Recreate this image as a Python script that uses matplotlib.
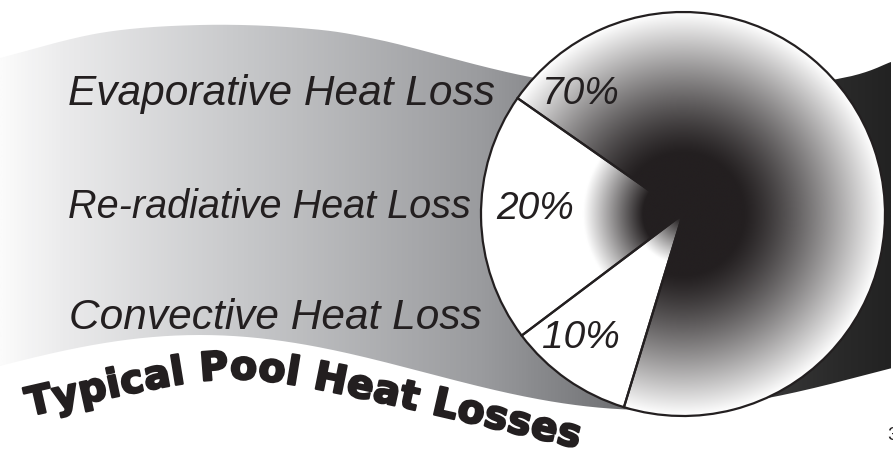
import numpy as np
import matplotlib
matplotlib.use("Agg")
import matplotlib.pyplot as plt
from matplotlib.colors import LinearSegmentedColormap
from matplotlib.path import Path
from matplotlib.patches import PathPatch
from matplotlib.font_manager import FontProperties, findfont, get_font
import matplotlib.patheffects as pe

# ---------------- data ----------------
categories = ["Evaporative Heat Loss", "Re-radiative Heat Loss", "Convective Heat Loss"]
shares = [70, 20, 10]
share_labels = ["70%", "20%", "10%"]
title = "Typical Pool Heat Losses"
page_number = "3"

# ---------------- canvas ----------------
W, H = 893, 453
INK = "#231f20"
fig = plt.figure(figsize=(W / 100, H / 100), dpi=100)
ax = fig.add_axes([0, 0, 1, 1])
ax.axis("off")


def catmull(pts, n=40):
    pts = np.asarray(pts, float)
    P = np.vstack([pts[0], pts, pts[-1]])
    out = []
    for i in range(1, len(P) - 2):
        p0, p1, p2, p3 = P[i - 1], P[i], P[i + 1], P[i + 2]
        t = np.linspace(0, 1, n, endpoint=False)[:, None]
        out.append(0.5 * ((2 * p1) + (-p0 + p2) * t + (2 * p0 - 5 * p1 + 4 * p2 - p3) * t ** 2
                          + (-p0 + 3 * p1 - 3 * p2 + p3) * t ** 3))
    out.append(pts[-1][None])
    return np.vstack(out)


# ---------------- wavy ribbon ----------------
top_edge = catmull([(0, 58), (100, 33), (200, 25), (300, 28), (380, 40), (530, 77),
                    (690, 100), (838, 79), (891, 62)])
xb = np.linspace(891, 0, 300)
yb = 372.5 - 37.5 * np.cos(2 * np.pi * (xb - 200) / 900)
verts = np.vstack([top_edge, np.column_stack([xb, yb]), top_edge[:1]])
band = PathPatch(Path(verts), facecolor="none", edgecolor="none")
ax.add_patch(band)
band_cmap = LinearSegmentedColormap.from_list(
    "band", [(0, "#fbfbfb"), (0.07, "#ebebec"), (0.26, "#c9cacc"), (0.54, "#9a9b9e"),
             (0.67, "#77787b"), (0.82, "#3f3f40"), (0.94, "#2a2a2a"), (1, "#222222")])
grad = np.linspace(0, 1, 512)[None, :]
im = ax.imshow(grad, cmap=band_cmap, extent=(0, W, H, 0), aspect="auto",
               zorder=1, interpolation="bilinear")
im.set_clip_path(band)

# ---------------- pie ----------------
cx, cy, R = 683, 214, 202
wedges, _ = ax.pie(shares, center=(cx, cy), radius=R, startangle=107, counterclock=False,
                   wedgeprops=dict(facecolor="none", edgecolor=INK, linewidth=1.6, zorder=5))
grad_cmap = LinearSegmentedColormap.from_list("p", [INK, "#ffffff"])
n = 700
xs = np.linspace(cx - R, cx + R, n)
ys = np.linspace(cy - R, cy + R, n)
X, Y = np.meshgrid(xs, ys)
rr = np.hypot(X - cx, Y - cy)
ramps = [(60, 202, 1.25), (40, 100, 1.0), (5, 50, 1.0)]
for wedge, (r0, r1, g) in zip(wedges, ramps):
    val = np.clip((rr - r0) / (r1 - r0), 0, 1) ** g
    gi = ax.imshow(val, cmap=grad_cmap, vmin=0, vmax=1,
                   extent=(cx - R, cx + R, cy + R, cy - R), origin="upper",
                   zorder=4, interpolation="bilinear", aspect="auto")
    gi.set_clip_path(wedge)

# ---------------- labels ----------------
label_pos = [(68, 105), (68, 218), (69, 329)]
label_size = [30.5, 28.5, 30.5]
for txt, (x, y), fs in zip(categories, label_pos, label_size):
    ax.text(x, y, txt, fontsize=fs, style="italic", family="Liberation Sans",
            color=INK, ha="left", va="baseline", zorder=3)

pct_pos = [(542, 104), (496, 219), (542, 348)]
for txt, (x, y) in zip(share_labels, pct_pos):
    ax.text(x, y, txt, fontsize=28, style="italic", family="Liberation Sans",
            color=INK, ha="left", va="baseline", zorder=6)

# ---------------- curved title ----------------
fp_ref = FontProperties(family="DejaVu Sans", weight="bold", size=100)
font = get_font(findfont(fp_ref))
font.set_size(100, 100)
adv100 = np.array([font.load_char(ord(c)).linearHoriAdvance / 65536 for c in title])

x0c, bslope, wc = 235.0, 0.24, 60.0
ac = 379 - bslope * wc
xc = np.linspace(0, 800, 8001)
yc = ac + bslope * np.sqrt((xc - x0c) ** 2 + wc ** 2)
sc = np.concatenate([[0], np.cumsum(np.hypot(np.diff(xc), np.diff(yc)))])
s_start = np.interp(29, xc, sc)
s_end = np.interp(578, xc, sc)
track = 0.5
scale = ((s_end - s_start) - track * (len(title) - 1)) / adv100.sum()
title_size = 100 * scale
adv = adv100 * scale
fp = FontProperties(family="DejaVu Sans", weight="bold", size=title_size)
offsets = s_start + np.concatenate([[0], np.cumsum(adv[:-1] + track)]) + adv / 2
for ch, s in zip(title, offsets):
    if ch == " ":
        continue
    x = np.interp(s, sc, xc)
    y = ac + bslope * np.sqrt((x - x0c) ** 2 + wc ** 2)
    slope = bslope * (x - x0c) / np.sqrt((x - x0c) ** 2 + wc ** 2)
    ang = -np.degrees(np.arctan(slope))
    ax.text(x, y, ch, fontproperties=fp, color=INK, rotation=ang, rotation_mode="anchor",
            ha="center", va="baseline", zorder=6,
            path_effects=[pe.withStroke(linewidth=1.6, foreground=INK)])

ax.text(887, 440, page_number, fontsize=14, family="Liberation Sans", color=INK,
        ha="left", va="baseline", zorder=6)

ax.set_xlim(0, W)
ax.set_ylim(H, 0)
ax.set_aspect("auto")
fig.savefig("out.png", dpi=100)
